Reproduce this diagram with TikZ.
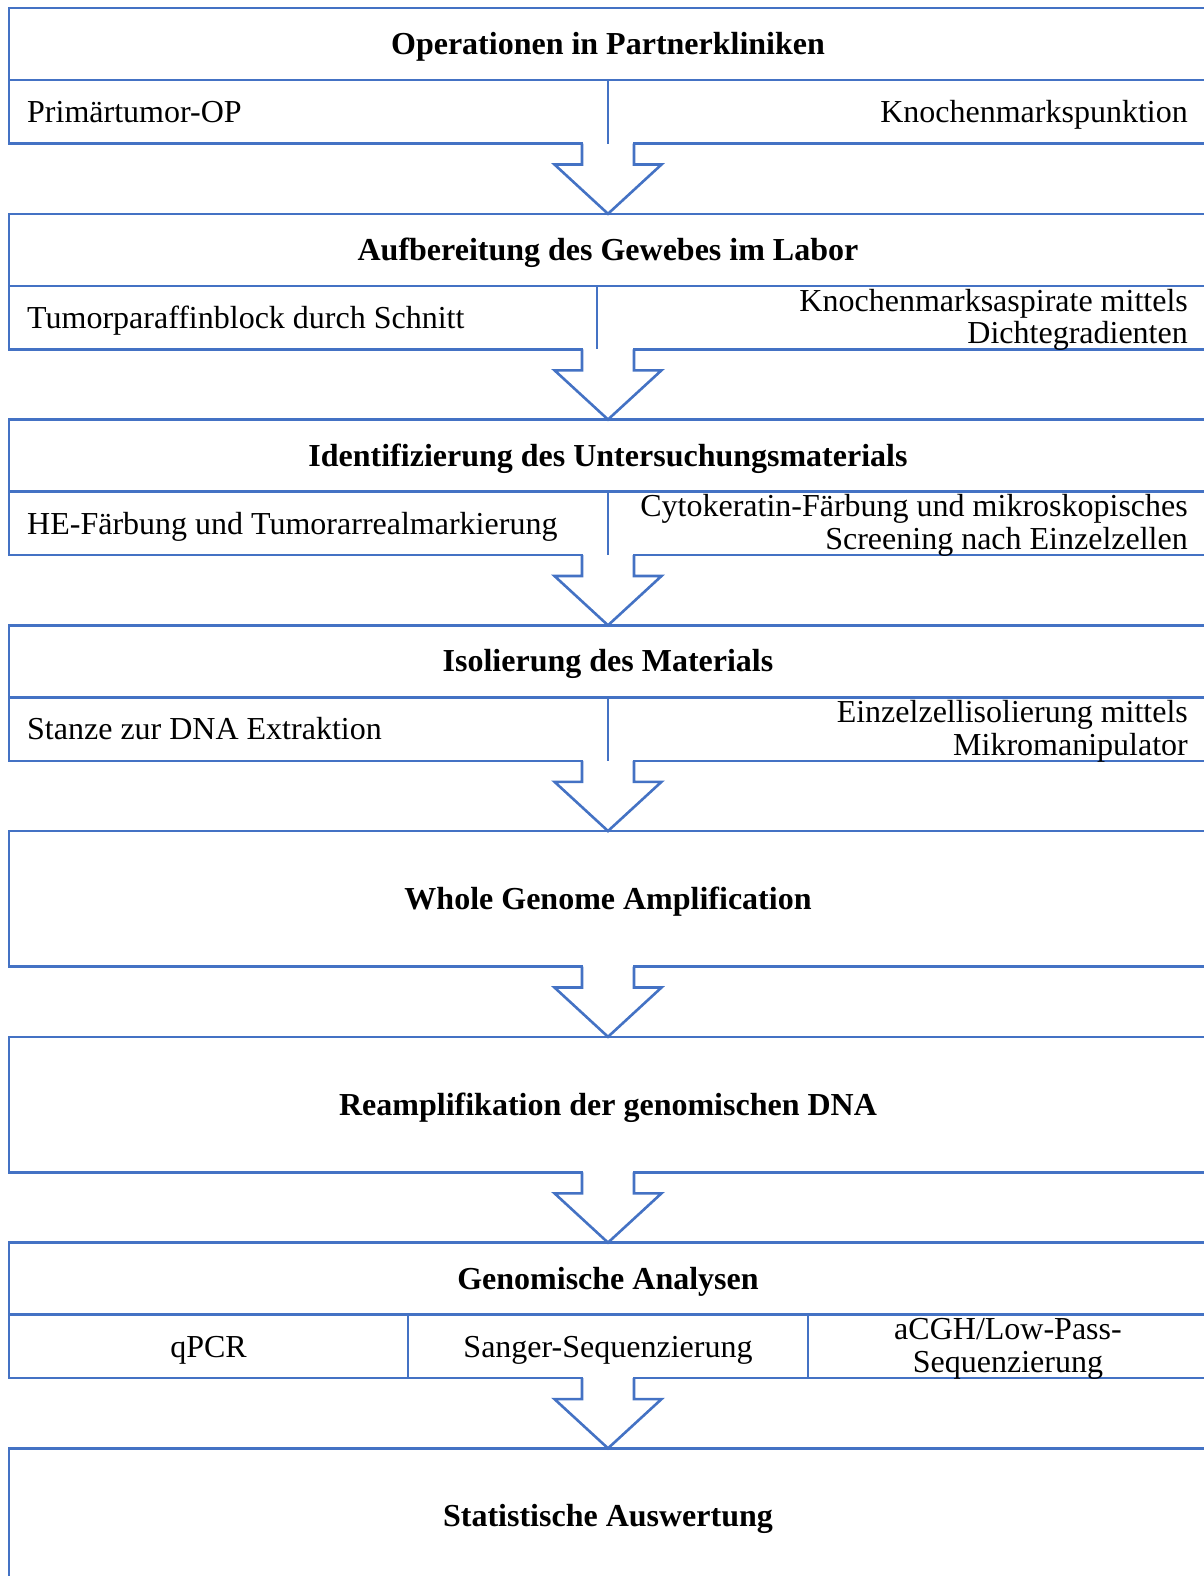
\documentclass[tikz,border=0pt]{standalone}
\usepackage{fontspec}
\setmainfont{Liberation Serif}
\usetikzlibrary{calc}
\definecolor{lineblue}{HTML}{4472C4}
\newcommand{\flowarrow}[2]{%
  \fill[white] ($(#1.south)+(-24.6,-1.4)$) rectangle ($(#1.south)+(24.6,22)$);
  \draw[arrowshape] ($(#1.south)+(-26,0)$) -- ++(0,21) -- ++(-27.5,0) -- (#2.north)
    -- ($(#1.south)+(53.5,21)$) -- ++(-27.5,0) -- ++(0,-21);}
\newcommand{\strutA}{\rule{0pt}{25pt}}
\begin{document}
\begin{tikzpicture}[x=1pt,y=-1pt,
  box/.style={draw=lineblue, line width=2.6pt, rectangle, minimum width=1198pt,
    minimum height=135.5pt, outer sep=0pt, inner sep=0pt, anchor=north west},
  ln/.style={draw=lineblue, line width=2.6pt},
  arrowshape/.style={draw=lineblue, line width=2.6pt, line join=miter},
  txt/.style={inner sep=0pt, font=\fontsize{32}{32.5}\selectfont},
  hdr/.style={txt, font=\fontsize{32}{32}\selectfont\bfseries, anchor=base},
  lt/.style={txt, anchor=base west},
  rt/.style={txt, anchor=base east},
  rt2/.style={txt, anchor=north east, align=right},
  ct/.style={txt, anchor=base},
  ct2/.style={txt, anchor=north, align=center}]
\useasboundingbox (0,0) rectangle (1204,1576);
\clip (0,0) rectangle (1204,1576);
\fill[white] (0,0) rectangle (1204,1576);

% boxes
\node[box] (b1) at (9,8) {};
\node[box] (b2) at (9,213.8) {};
\node[box] (b3) at (9,419.5) {};
\node[box] (b4) at (9,625.3) {};
\node[box] (b5) at (9,831) {};
\node[box] (b6) at (9,1036.8) {};
\node[box] (b7) at (9,1242.6) {};
\node[box] (b8) at (9,1448.3) {};

% arrows
\flowarrow{b1}{b2}
\flowarrow{b2}{b3}
\flowarrow{b3}{b4}
\flowarrow{b4}{b5}
\flowarrow{b5}{b6}
\flowarrow{b6}{b7}
\flowarrow{b7}{b8}

% header lines and dividers
\draw[ln] (9,80) -- (1210,80);
\draw[ln] (608,80) -- (608,143.5);
\draw[ln] (9,285.8) -- (1210,285.8);
\draw[ln] (597,285.8) -- (597,349.3);
\draw[ln] (9,491.5) -- (1210,491.5);
\draw[ln] (608,491.5) -- (608,555);
\draw[ln] (9,697.3) -- (1210,697.3);
\draw[ln] (608,697.3) -- (608,760.8);
\draw[ln] (9,1314.6) -- (1210,1314.6);
\draw[ln] (408,1314.6) -- (408,1378.1);
\draw[ln] (808,1314.6) -- (808,1378.1);

% texts
\node[hdr] (h1) at (608,54.5) {Operationen in Partnerkliniken};
\node[lt] (l1) at (27,122.5) {Primärtumor-OP};
\node[rt] (r1) at (1188,122.5) {Knochenmarkspunktion};

\node[hdr] (h2) at (608,260.3) {Aufbereitung des Gewebes im Labor};
\node[lt] (l2) at (27,328.3) {Tumorparaffinblock durch Schnitt};
\node[rt2] (r2) at (1188,285.8) {\strutA Knochenmarksaspirate mittels\\Dichtegradienten};

\node[hdr] (h3) at (608,466) {Identifizierung des Untersuchungsmaterials};
\node[lt] (l3) at (27,534) {HE-Färbung und Tumorarrealmarkierung};
\node[rt2] (r3) at (1188,491.5) {\strutA Cytokeratin-Färbung und mikroskopisches\\Screening nach Einzelzellen};

\node[hdr] (h4) at (608,671.8) {Isolierung des Materials};
\node[lt] (l4) at (27,739.8) {Stanze zur DNA Extraktion};
\node[rt2] (r4) at (1188,697.3) {\strutA Einzelzellisolierung mittels\\Mikromanipulator};

\node[hdr] (h5) at (608,909.5) {Whole Genome Amplification};
\node[hdr] (h6) at (608,1115.3) {Reamplifikation der genomischen DNA};

\node[hdr] (h7) at (608,1289.1) {Genomische Analysen};
\node[ct] (c71) at (208.5,1357) {qPCR};
\node[ct] (c72) at (608,1357) {Sanger-Sequenzierung};
\node[ct2] (c73) at (1008,1314.6) {\strutA aCGH/Low-Pass-\\Sequenzierung};

\node[hdr] (h8) at (608,1526.8) {Statistische Auswertung};
\end{tikzpicture}
\end{document}
